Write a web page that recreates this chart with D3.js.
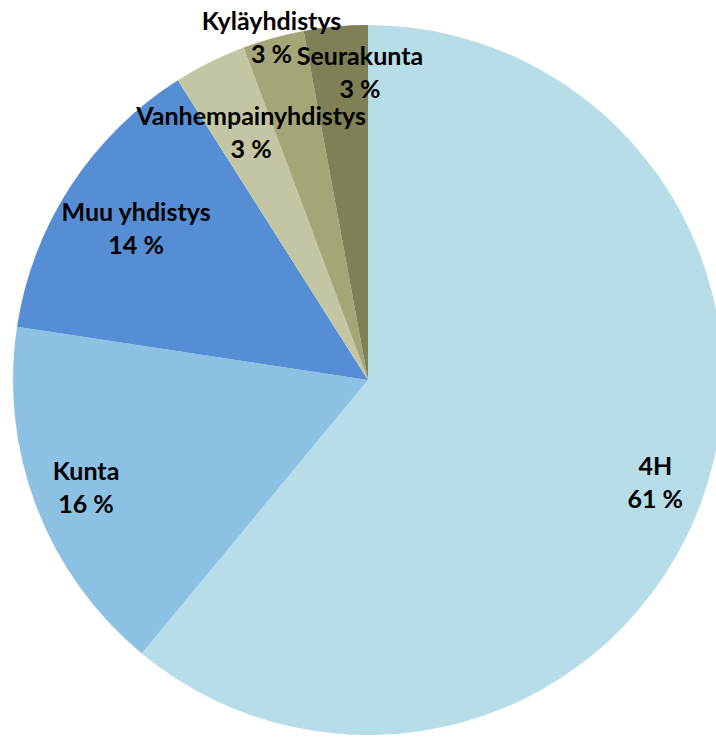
<!DOCTYPE html>
<html><head><meta charset="utf-8">
<script src="https://cdn.jsdelivr.net/npm/d3@7"></script>
<style>html,body{margin:0;padding:0;background:#fff;overflow:hidden}</style>
</head><body><svg id="c" width="716" height="737"></svg>
<script>
const categories = ["4H", "Kunta", "Muu yhdistys", "Vanhempainyhdistys", "Kyläyhdistys", "Seurakunta"];
const values = [61.0, 16.4, 13.6, 3.3, 2.8, 2.9];
const colors = ["#B7DDE8", "#8DC1E4", "#558ED5", "#C4C6A3", "#A5A677", "#7F8056"];

const svg = d3.select("#c");
const cx = 368, cy = 380, R = 355;
const g = svg.append("g").attr("transform", `translate(${cx},${cy})`);

const pie = d3.pie().sort(null).value(d => d.v);
const data = categories.map((c, i) => ({c, v: values[i], col: colors[i]}));
const arcs = pie(data);
const arc = d3.arc().innerRadius(0).outerRadius(R);

g.selectAll("path").data(arcs).join("path")
  .attr("d", arc).attr("fill", d => d.data.col);

// label radius factors (best-fit style placement)
const lr = [0.86, 0.85, 0.78, 0.77, 1.0, 0.865];
const angAdj = [0, 0, 0, 0.02, -0.005, 0.065];
const lab = g.selectAll("text.lab").data(arcs).join("text")
  .attr("class", "lab")
  .attr("text-anchor", "middle")
  .style("font-family", "Lato, 'Open Sans', sans-serif")
  .style("font-weight", "bold")
  .style("font-size", "25px")
  .attr("fill", "#000")
  .attr("transform", (d, i) => {
    const a = (d.startAngle + d.endAngle) / 2 + angAdj[i];
    const r = R * lr[i];
    return `translate(${r * Math.sin(a)},${-r * Math.cos(a)})`;
  });
lab.append("tspan").attr("x", 0).attr("y", -8).text(d => d.data.c);
lab.append("tspan").attr("x", 0).attr("y", 25).text(d => Math.round(d.data.v) + " %");
</script></body></html>
